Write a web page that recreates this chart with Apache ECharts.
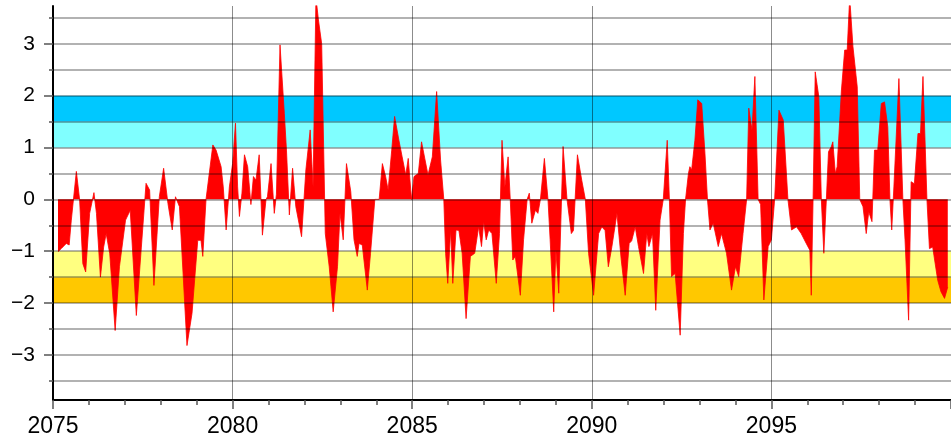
<!DOCTYPE html>
<html>
<head>
<meta charset="utf-8">
<script src="https://cdn.jsdelivr.net/npm/echarts@6/dist/echarts.min.js"></script>
<style>
html,body{margin:0;padding:0;background:#fff;}
#chart{width:951px;height:445px;}
</style>
</head>
<body>
<div id="chart"></div>
<script>
// ---- data ----
const years = [
2075.14,2075.23,2075.37,2075.45,2075.51,2075.65,2075.74,2075.83,2075.91,2076.02,
2076.14,2076.21,2076.32,2076.41,2076.48,2076.58,2076.73,2076.85,2077.02,2077.15,
2077.32,2077.46,2077.59,2077.69,2077.81,2077.96,2078.08,2078.20,2078.32,2078.41,
2078.52,2078.73,2078.87,2079.03,2079.12,
2079.17,2079.26,2079.45,2079.54,2079.68,2079.74,2079.82,2079.91,2080.00,2080.08,
2080.14,2080.19,2080.26,2080.33,2080.42,2080.51,2080.58,2080.65,2080.74,2080.83,
2080.93,2080.97,2081.07,2081.16,2081.22,2081.32,2081.44,2081.50,2081.58,2081.67,
2081.76,2081.92,2082.04,2082.16,2082.24,2082.32,2082.39,2082.48,2082.58,2082.69,
2082.80,2082.92,2082.99,2083.08,2083.17,2083.29,
2083.38,2083.47,2083.52,2083.61,2083.75,2083.84,2083.96,2084.08,2084.17,2084.26,
2084.33,2084.43,2084.51,2084.63,2084.72,2084.82,2084.89,2084.98,2085.05,2085.17,
2085.26,2085.35,2085.44,2085.56,2085.68,2085.79,2085.88,2085.93,2085.99,2086.07,
2086.13,2086.22,2086.30,2086.39,2086.50,2086.62,2086.74,2086.85,2086.93,2086.99,
2087.06,2087.13,2087.22,2087.34,2087.43,2087.50,
2087.58,2087.67,2087.73,2087.80,2087.87,2088.01,2088.10,2088.20,2088.26,2088.33,
2088.43,2088.50,2088.57,2088.68,2088.78,2088.84,2088.94,2089.00,2089.08,2089.20,
2089.31,2089.43,2089.49,2089.60,2089.72,2089.82,2089.91,2090.05,2090.19,2090.28,
2090.37,2090.46,2090.56,2090.70,2090.82,2090.93,2091.04,2091.11,2091.21,2091.30,
2091.44,2091.53,2091.59,
2091.69,2091.78,2091.90,2091.99,2092.10,2092.16,2092.22,2092.32,2092.46,2092.55,
2092.61,2092.69,2092.73,2092.78,2092.87,2092.95,2093.06,2093.15,2093.22,2093.29,
2093.38,2093.52,2093.61,2093.75,2093.89,2094.00,2094.09,2094.21,2094.31,2094.37,
2094.46,2094.54,2094.63,2094.70,2094.79,2094.91,2095.00,2095.09,2095.21,2095.33,
2095.46,2095.56,2095.70,2095.83,
2095.97,2096.07,2096.11,2096.16,2096.22,2096.32,2096.39,2096.46,2096.53,2096.59,
2096.67,2096.71,2096.78,2096.83,2096.95,2097.04,2097.11,2097.18,2097.27,2097.39,
2097.46,2097.55,2097.64,2097.71,2097.80,2097.87,2097.96,2098.06,2098.15,2098.24,
2098.30,2098.35,2098.41,2098.55,2098.66,2098.72,2098.82,2098.89,2098.98,2099.08,
2099.15,2099.22,2099.33,2099.40,2099.49,2099.63,2099.72,2099.82,2099.91
];
const values = [
-1.01,-0.95,-0.85,-0.88,-0.40,0.54,0.00,-1.24,-1.40,-0.27,
0.13,-0.27,-1.50,-0.92,-0.66,-1.05,-2.53,-1.30,-0.40,-0.21,
-2.24,-0.92,0.31,0.18,-1.66,0.05,0.60,-0.08,-0.59,0.05,
-0.14,-2.82,-2.20,-0.79,-0.79,
-1.10,0.00,1.05,0.95,0.63,0.24,-0.59,0.24,0.69,1.47,
0.24,-0.33,0.12,0.86,0.63,-0.10,0.44,0.37,0.86,-0.69,
0.00,0.05,0.69,-0.27,0.10,2.98,1.66,0.95,-0.30,0.60,
-0.14,-0.72,0.57,1.34,0.24,3.90,3.46,3.00,-0.66,-1.30,
-2.17,-1.30,-0.27,-0.78,0.69,0.15,
-0.78,-1.10,-0.85,-0.88,-1.75,-1.04,0.00,0.00,0.69,0.44,
0.18,0.95,1.60,1.14,0.82,0.47,0.79,0.00,0.44,0.50,
1.11,0.79,0.47,0.82,2.08,0.76,0.00,-1.04,-1.62,-0.59,
-1.62,-0.59,-0.60,-1.04,-2.30,-1.10,-1.04,-0.53,-0.91,-0.43,
-0.78,-0.59,-0.66,-1.62,-0.66,1.14,
0.24,0.82,0.00,-1.17,-1.10,-1.85,-0.78,0.00,0.12,-0.46,
-0.21,-0.27,0.00,0.79,0.00,-0.78,-2.17,-0.98,-1.81,1.02,
0.00,-0.66,-0.60,0.86,0.37,0.00,-1.04,-1.85,-0.66,-0.53,
-0.60,-1.30,-0.91,-0.27,-1.17,-1.85,-0.85,-0.80,-0.53,-0.91,
-1.43,-0.66,-0.91,
-0.66,-2.14,-0.40,0.00,1.14,0.00,-1.49,-1.43,-2.62,-0.66,
0.00,0.50,0.63,0.57,1.14,1.92,1.85,0.89,0.00,-0.59,
-0.46,-0.91,-0.66,-1.04,-1.75,-1.30,-1.49,-0.66,0.00,1.76,
1.34,2.37,0.00,-0.10,-1.94,-0.91,-0.78,0.00,1.72,1.53,
0.00,-0.59,-0.53,-0.66,
-0.85,-0.98,-1.85,0.00,2.46,1.98,0.00,-1.04,0.00,0.92,
1.02,1.11,0.50,0.63,2.11,2.88,2.88,3.90,2.95,2.17,
0.00,-0.14,-0.66,-0.24,-0.43,0.95,0.95,1.85,1.88,1.40,
0.00,-0.59,0.24,2.33,0.00,-0.78,-2.33,0.34,0.30,1.27,
1.27,2.37,0.00,-0.95,-0.92,-1.56,-1.78,-1.91,-1.69
];
// shaded bands [low, high, colour]
const bandLow  = [-2.0, -1.5, 1.0, 1.5];
const bandHigh = [-1.5, -1.0, 1.5, 2.0];
const bandColors = ['#FFC800', '#FFFF80', '#80FFFF', '#00C8FF'];
// axis ticks
const yHalfTicks = [-3.5,-3,-2.5,-2,-1.5,-1,-0.5,0,0.5,1,1.5,2,2.5,3,3.5];
const yLabelTicks = [-3,-2,-1,0,1,2,3];
const xMin = 2075, xMax = 2100;
const yMin = -3.87, yMax = 3.73;

const chart = echarts.init(document.getElementById('chart'), null, {renderer:'canvas'});
const seriesData = years.map((y, i) => [y, values[i]]);
const bands = bandLow.map((lo, i) => [
  {yAxis: lo, itemStyle: {color: bandColors[i], opacity: 1}},
  {yAxis: bandHigh[i]}
]);
const fontFam = '"Liberation Sans", Arial, Helvetica, sans-serif';

chart.setOption({
  animation: false,
  backgroundColor: '#ffffff',
  grid: {left: 53, right: -2, top: 6, bottom: 45, containLabel: false},
  xAxis: {
    type: 'value', min: xMin, max: xMax, interval: 5, z: 10,
    axisLine: {show: true, onZero: false, lineStyle: {color: '#000', width: 2}},
    axisTick: {show: true, inside: false, length: 9, lineStyle: {color: '#555', width: 1.5}},
    minorTick: {show: true, splitNumber: 5, length: 5, lineStyle: {color: '#555', width: 1.5}},
    axisLabel: {show: true, showMaxLabel: false, margin: 15, color: '#000', fontSize: 23, fontFamily: fontFam,
      formatter: v => String(Math.round(v))},
    splitLine: {show: true, lineStyle: {color: 'rgba(0,0,0,0.45)', width: 1}},
    minorSplitLine: {show: false}
  },
  yAxis: [
    {
      type: 'value', min: yMin, max: yMax, position: 'left', z: 10,
      axisLine: {show: true, onZero: false, lineStyle: {color: '#000', width: 2}},
      axisTick: {show: true, inside: false, length: 4, customValues: yHalfTicks, lineStyle: {color: '#555', width: 1.5}},
      axisLabel: {show: false},
      splitLine: {show: true, lineStyle: {color: 'rgba(0,0,0,0.3)', width: 2}}
    },
    {
      type: 'value', min: yMin, max: yMax, position: 'left', z: 10,
      axisLine: {show: false},
      axisTick: {show: true, inside: false, length: 9, customValues: yLabelTicks, lineStyle: {color: '#555', width: 1.5}},
      axisLabel: {show: true, customValues: yLabelTicks, margin: 18, color: '#000', fontSize: 21, fontFamily: fontFam,
        formatter: v => (v < 0 ? '\u2212' + Math.abs(v) : String(v))},
      splitLine: {show: false}
    }
  ],
  series: [{
    type: 'line',
    xAxisIndex: 0, yAxisIndex: 0,
    data: seriesData,
    symbol: 'none',
    showSymbol: false,
    clip: true,
    z: 2,
    lineStyle: {color: '#ff0000', width: 0.8},
    areaStyle: {color: '#ff0000', opacity: 1, origin: 0},
    markArea: {silent: true, z: 1, data: bands}
  }]
});
</script>
</body>
</html>
